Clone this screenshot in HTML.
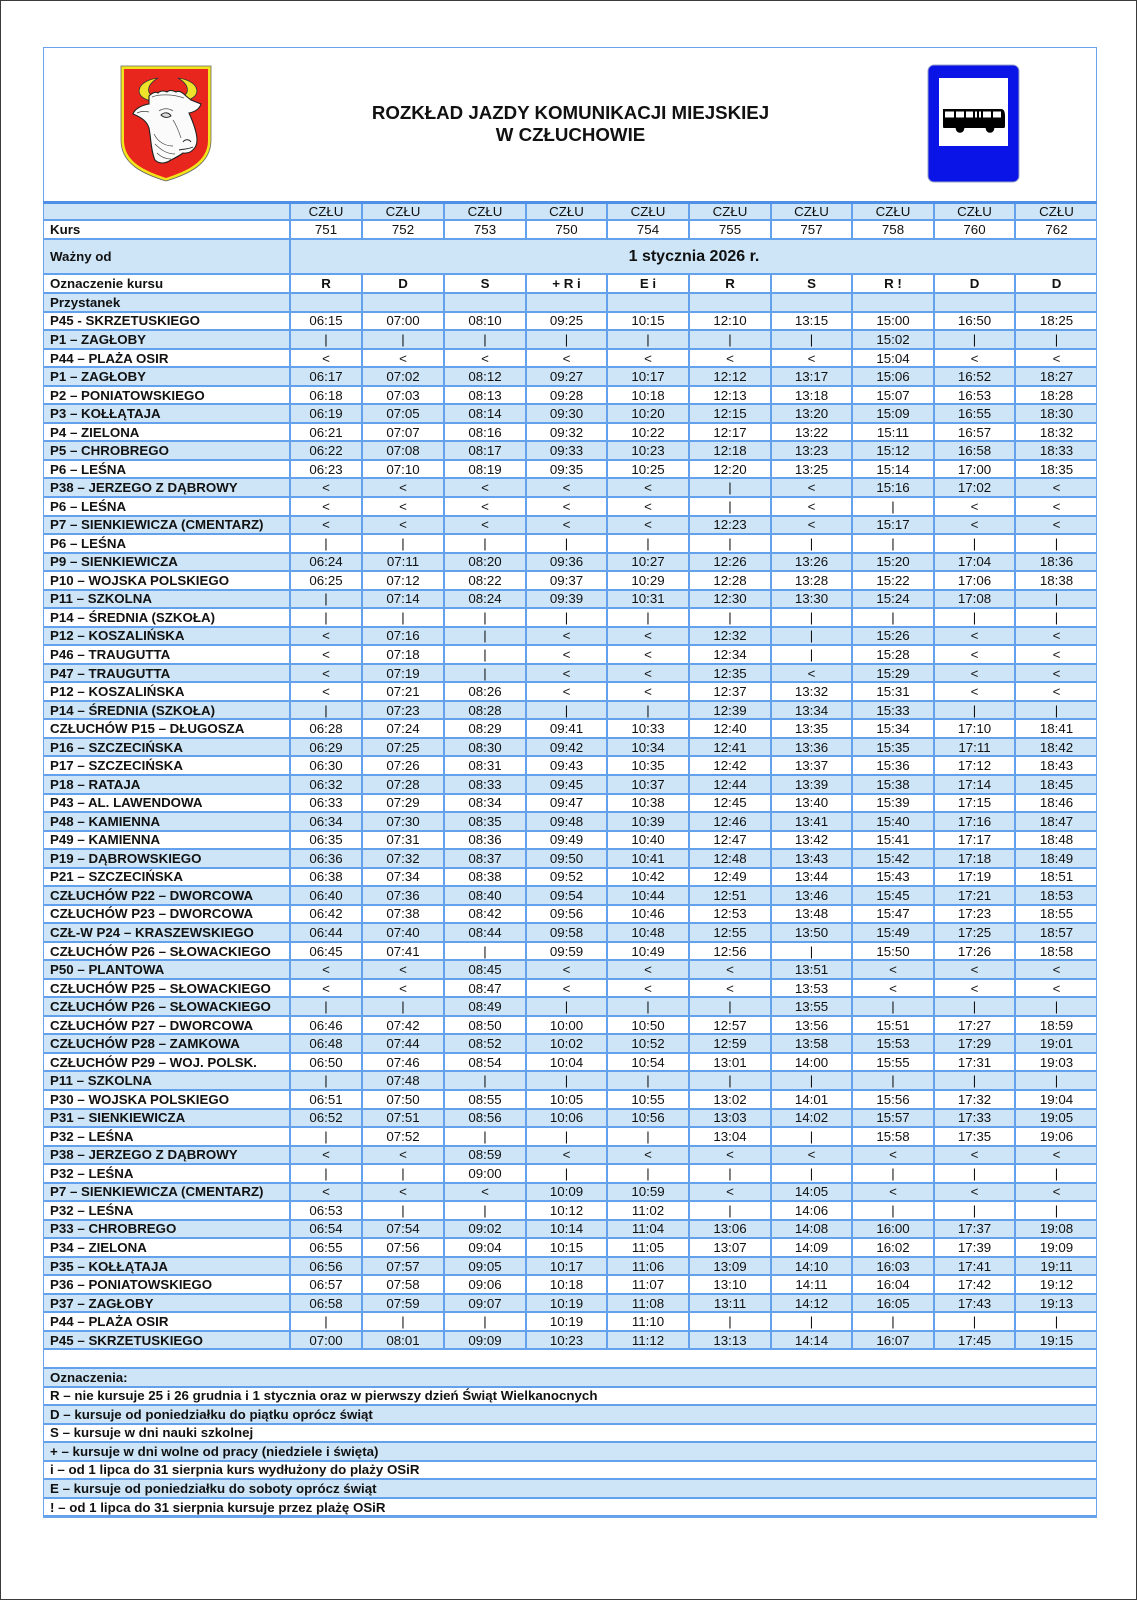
<!DOCTYPE html>
<html>
<head>
<meta charset="utf-8">
<style>
html,body{margin:0;padding:0;background:#fff;}
body{width:1137px;height:1600px;position:relative;overflow:hidden;font-family:"Liberation Sans",Arial,sans-serif;color:#111;}
.page{position:absolute;left:0;top:0;width:1137px;height:1600px;box-sizing:border-box;border:1.5px solid #3a3a3a;}
.frame{position:absolute;left:43px;top:47px;width:1054px;height:1471px;box-sizing:border-box;border:1.3px solid #6aa3ea;z-index:5;pointer-events:none;}
.thick{position:absolute;left:43px;top:200.5px;width:1054px;height:3px;background:#4f8fe6;z-index:6;}
.title{position:absolute;left:270px;top:102px;width:601px;text-align:center;font-weight:bold;font-size:18.7px;line-height:22px;color:#111;}
.tbl{position:absolute;left:43px;top:203px;width:1054px;}
.r{display:flex;height:18.54px;box-sizing:border-box;border-bottom:2px solid #64a1ec;background:#fff;align-items:center;}
.r.b{background:#cde5f7;}
.r span{box-sizing:border-box;border-left:2px solid #64a1ec;text-align:center;font-size:13.3px;height:100%;display:flex;align-items:center;justify-content:center;white-space:nowrap;}
.r span:first-child{border-left:none;justify-content:flex-start;padding-left:7px;font-weight:bold;width:246px;}
.r span:nth-child(2){width:72px}
.r span:nth-child(3){width:82px}
.r span:nth-child(4){width:82px}
.r span:nth-child(5){width:81px}
.r span:nth-child(6){width:82px}
.r span:nth-child(7){width:82px}
.r span:nth-child(8){width:81px}
.r span:nth-child(9){width:82px}
.r span:nth-child(10){width:81px}
.r span:nth-child(11){width:83px}
.r.bo span{font-weight:bold}
.r.n span:first-child{width:1054px}
.r.wz span:nth-child(2){width:808px;font-weight:bold;font-size:16px;}
.nr{height:18.56px}
</style>
</head>
<body>
<div class="page"></div>
<div class="frame"></div>
<div class="thick"></div>

<!-- coat of arms -->
<svg style="position:absolute;left:119px;top:64px" width="95" height="120" viewBox="-2 -2 95 120">
  <path d="M0,0 H90 V74 C90,98 68,108 45,115 C22,108 0,98 0,74 Z" fill="#f2e41c" stroke="#666" stroke-width="0.8"/>
  <path d="M3,3 H87 V74 C87,96 66,105 45,112 C24,105 3,96 3,74 Z" fill="#e8261e"/>
  <path d="M31,35 C12,32 14,15 37,12 C25,19 25,28 34,31 Z" fill="#efe22a" stroke="#333" stroke-width="0.8"/>
  <path d="M63,35 C82,32 80,15 57,12 C69,19 69,28 60,31 Z" fill="#efe22a" stroke="#333" stroke-width="0.8"/>
  <path d="M28,30 C31,27 34,25 37,27 C40,24 44,25 46,26 C49,23 53,25 55,26 C58,24 62,27 65,30 L70,34 L80,38 C78,44 73,46 68,47 C72,56 76,66 76,74 C76,82 70,88 62,87 C58,90 54,92 50,94 C44,98 38,98 34,94 C30,86 30,72 28,62 C26,56 22,52 12,48 C14,42 22,39 28,38 Z" fill="#fbfbfb" stroke="#222" stroke-width="1.1"/>
  <path d="M31,31 C38,28 52,28 63,32" fill="none" stroke="#555" stroke-width="0.8"/>
  <path d="M40,49 C43,46 48,46 50,50 C47,52 43,52 40,49 Z" fill="#ddd" stroke="#222" stroke-width="0.9"/>
  <path d="M38,45 C42,42 48,42 52,45" fill="none" stroke="#444" stroke-width="0.7"/>
  <path d="M62,76 C64,73 68,73 70,76 M58,84 C63,83 68,83 72,81" fill="none" stroke="#222" stroke-width="0.9"/>
  <path d="M34,78 C40,84 46,88 54,88 M33,68 C37,76 44,80 52,80 M36,87 C40,91 45,93 50,93" fill="none" stroke="#444" stroke-width="0.7"/>
  <path d="M52,54 C56,60 58,66 60,72" fill="none" stroke="#555" stroke-width="0.7"/>
  <path d="M16,47 C20,45 24,45 28,46" fill="none" stroke="#444" stroke-width="0.7"/>
</svg>

<div class="title">ROZKŁAD JAZDY KOMUNIKACJI MIEJSKIEJ<br>W CZŁUCHOWIE</div>

<!-- bus stop sign -->
<svg style="position:absolute;left:927px;top:64px" width="94" height="120" viewBox="0 0 94 120">
  <rect x="1" y="1" width="91" height="117" rx="6" ry="6" fill="#0b14e6" stroke="#9aa3c8" stroke-width="1"/>
  <rect x="12" y="14" width="69" height="68" fill="#fff"/>
  <path d="M16,45 H74 C77,45 78,48 78,52 V62 C78,64 77,64 76,64 H17 C16,64 16,63 16,62 Z" fill="#000"/>
  <rect x="18" y="47.5" width="9" height="6" fill="#fff"/>
  <rect x="29" y="47.5" width="8" height="6" fill="#fff"/>
  <rect x="39" y="47.5" width="7" height="6" fill="#fff"/>
  <rect x="48" y="47.5" width="2" height="6" fill="#fff"/>
  <rect x="52" y="47.5" width="2" height="6" fill="#fff"/>
  <rect x="56" y="47.5" width="8" height="6" fill="#fff"/>
  <rect x="66" y="47.5" width="8" height="6" fill="#fff"/>
  <circle cx="33" cy="64.5" r="4.3" fill="#000"/>
  <circle cx="63" cy="64.5" r="4.3" fill="#000"/>
</svg>

<div class="tbl">
  <div class="r b" style="height:18.3px"><span></span><span>CZŁU</span><span>CZŁU</span><span>CZŁU</span><span>CZŁU</span><span>CZŁU</span><span>CZŁU</span><span>CZŁU</span><span>CZŁU</span><span>CZŁU</span><span>CZŁU</span></div>
  <div class="r" style="height:19px"><span>Kurs</span><span>751</span><span>752</span><span>753</span><span>750</span><span>754</span><span>755</span><span>757</span><span>758</span><span>760</span><span>762</span></div>
  <div class="r b wz" style="height:35px"><span>Ważny od</span><span>1 stycznia 2026 r.</span></div>
  <div class="r bo" style="height:18.4px"><span>Oznaczenie kursu</span><span>R</span><span>D</span><span>S</span><span>+ R i</span><span>E i</span><span>R</span><span>S</span><span>R !</span><span>D</span><span>D</span></div>
  <div class="r b" style="height:19px"><span>Przystanek</span><span></span><span></span><span></span><span></span><span></span><span></span><span></span><span></span><span></span><span></span></div>

  <div class="r"><span>P45 - SKRZETUSKIEGO</span><span>06:15</span><span>07:00</span><span>08:10</span><span>09:25</span><span>10:15</span><span>12:10</span><span>13:15</span><span>15:00</span><span>16:50</span><span>18:25</span></div>
  <div class="r b"><span>P1 – ZAGŁOBY</span><span>|</span><span>|</span><span>|</span><span>|</span><span>|</span><span>|</span><span>|</span><span>15:02</span><span>|</span><span>|</span></div>
  <div class="r"><span>P44 – PLAŻA OSIR</span><span>&lt;</span><span>&lt;</span><span>&lt;</span><span>&lt;</span><span>&lt;</span><span>&lt;</span><span>&lt;</span><span>15:04</span><span>&lt;</span><span>&lt;</span></div>
  <div class="r b"><span>P1 – ZAGŁOBY</span><span>06:17</span><span>07:02</span><span>08:12</span><span>09:27</span><span>10:17</span><span>12:12</span><span>13:17</span><span>15:06</span><span>16:52</span><span>18:27</span></div>
  <div class="r"><span>P2 – PONIATOWSKIEGO</span><span>06:18</span><span>07:03</span><span>08:13</span><span>09:28</span><span>10:18</span><span>12:13</span><span>13:18</span><span>15:07</span><span>16:53</span><span>18:28</span></div>
  <div class="r b"><span>P3 – KOŁŁĄTAJA</span><span>06:19</span><span>07:05</span><span>08:14</span><span>09:30</span><span>10:20</span><span>12:15</span><span>13:20</span><span>15:09</span><span>16:55</span><span>18:30</span></div>
  <div class="r"><span>P4 – ZIELONA</span><span>06:21</span><span>07:07</span><span>08:16</span><span>09:32</span><span>10:22</span><span>12:17</span><span>13:22</span><span>15:11</span><span>16:57</span><span>18:32</span></div>
  <div class="r b"><span>P5 – CHROBREGO</span><span>06:22</span><span>07:08</span><span>08:17</span><span>09:33</span><span>10:23</span><span>12:18</span><span>13:23</span><span>15:12</span><span>16:58</span><span>18:33</span></div>
  <div class="r"><span>P6 – LEŚNA</span><span>06:23</span><span>07:10</span><span>08:19</span><span>09:35</span><span>10:25</span><span>12:20</span><span>13:25</span><span>15:14</span><span>17:00</span><span>18:35</span></div>
  <div class="r b"><span>P38 – JERZEGO Z DĄBROWY</span><span>&lt;</span><span>&lt;</span><span>&lt;</span><span>&lt;</span><span>&lt;</span><span>|</span><span>&lt;</span><span>15:16</span><span>17:02</span><span>&lt;</span></div>
  <div class="r"><span>P6 – LEŚNA</span><span>&lt;</span><span>&lt;</span><span>&lt;</span><span>&lt;</span><span>&lt;</span><span>|</span><span>&lt;</span><span>|</span><span>&lt;</span><span>&lt;</span></div>
  <div class="r b"><span>P7 – SIENKIEWICZA (CMENTARZ)</span><span>&lt;</span><span>&lt;</span><span>&lt;</span><span>&lt;</span><span>&lt;</span><span>12:23</span><span>&lt;</span><span>15:17</span><span>&lt;</span><span>&lt;</span></div>
  <div class="r"><span>P6 – LEŚNA</span><span>|</span><span>|</span><span>|</span><span>|</span><span>|</span><span>|</span><span>|</span><span>|</span><span>|</span><span>|</span></div>
  <div class="r b"><span>P9 – SIENKIEWICZA</span><span>06:24</span><span>07:11</span><span>08:20</span><span>09:36</span><span>10:27</span><span>12:26</span><span>13:26</span><span>15:20</span><span>17:04</span><span>18:36</span></div>
  <div class="r"><span>P10 – WOJSKA POLSKIEGO</span><span>06:25</span><span>07:12</span><span>08:22</span><span>09:37</span><span>10:29</span><span>12:28</span><span>13:28</span><span>15:22</span><span>17:06</span><span>18:38</span></div>
  <div class="r b"><span>P11 – SZKOLNA</span><span>|</span><span>07:14</span><span>08:24</span><span>09:39</span><span>10:31</span><span>12:30</span><span>13:30</span><span>15:24</span><span>17:08</span><span>|</span></div>
  <div class="r"><span>P14 – ŚREDNIA (SZKOŁA)</span><span>|</span><span>|</span><span>|</span><span>|</span><span>|</span><span>|</span><span>|</span><span>|</span><span>|</span><span>|</span></div>
  <div class="r b"><span>P12 – KOSZALIŃSKA</span><span>&lt;</span><span>07:16</span><span>|</span><span>&lt;</span><span>&lt;</span><span>12:32</span><span>|</span><span>15:26</span><span>&lt;</span><span>&lt;</span></div>
  <div class="r"><span>P46 – TRAUGUTTA</span><span>&lt;</span><span>07:18</span><span>|</span><span>&lt;</span><span>&lt;</span><span>12:34</span><span>|</span><span>15:28</span><span>&lt;</span><span>&lt;</span></div>
  <div class="r b"><span>P47 – TRAUGUTTA</span><span>&lt;</span><span>07:19</span><span>|</span><span>&lt;</span><span>&lt;</span><span>12:35</span><span>&lt;</span><span>15:29</span><span>&lt;</span><span>&lt;</span></div>
  <div class="r"><span>P12 – KOSZALIŃSKA</span><span>&lt;</span><span>07:21</span><span>08:26</span><span>&lt;</span><span>&lt;</span><span>12:37</span><span>13:32</span><span>15:31</span><span>&lt;</span><span>&lt;</span></div>
  <div class="r b"><span>P14 – ŚREDNIA (SZKOŁA)</span><span>|</span><span>07:23</span><span>08:28</span><span>|</span><span>|</span><span>12:39</span><span>13:34</span><span>15:33</span><span>|</span><span>|</span></div>
  <div class="r"><span>CZŁUCHÓW P15 – DŁUGOSZA</span><span>06:28</span><span>07:24</span><span>08:29</span><span>09:41</span><span>10:33</span><span>12:40</span><span>13:35</span><span>15:34</span><span>17:10</span><span>18:41</span></div>
  <div class="r b"><span>P16 – SZCZECIŃSKA</span><span>06:29</span><span>07:25</span><span>08:30</span><span>09:42</span><span>10:34</span><span>12:41</span><span>13:36</span><span>15:35</span><span>17:11</span><span>18:42</span></div>
  <div class="r"><span>P17 – SZCZECIŃSKA</span><span>06:30</span><span>07:26</span><span>08:31</span><span>09:43</span><span>10:35</span><span>12:42</span><span>13:37</span><span>15:36</span><span>17:12</span><span>18:43</span></div>
  <div class="r b"><span>P18 – RATAJA</span><span>06:32</span><span>07:28</span><span>08:33</span><span>09:45</span><span>10:37</span><span>12:44</span><span>13:39</span><span>15:38</span><span>17:14</span><span>18:45</span></div>
  <div class="r"><span>P43 – AL. LAWENDOWA</span><span>06:33</span><span>07:29</span><span>08:34</span><span>09:47</span><span>10:38</span><span>12:45</span><span>13:40</span><span>15:39</span><span>17:15</span><span>18:46</span></div>
  <div class="r b"><span>P48 – KAMIENNA</span><span>06:34</span><span>07:30</span><span>08:35</span><span>09:48</span><span>10:39</span><span>12:46</span><span>13:41</span><span>15:40</span><span>17:16</span><span>18:47</span></div>
  <div class="r"><span>P49 – KAMIENNA</span><span>06:35</span><span>07:31</span><span>08:36</span><span>09:49</span><span>10:40</span><span>12:47</span><span>13:42</span><span>15:41</span><span>17:17</span><span>18:48</span></div>
  <div class="r b"><span>P19 – DĄBROWSKIEGO</span><span>06:36</span><span>07:32</span><span>08:37</span><span>09:50</span><span>10:41</span><span>12:48</span><span>13:43</span><span>15:42</span><span>17:18</span><span>18:49</span></div>
  <div class="r"><span>P21 – SZCZECIŃSKA</span><span>06:38</span><span>07:34</span><span>08:38</span><span>09:52</span><span>10:42</span><span>12:49</span><span>13:44</span><span>15:43</span><span>17:19</span><span>18:51</span></div>
  <div class="r b"><span>CZŁUCHÓW P22 – DWORCOWA</span><span>06:40</span><span>07:36</span><span>08:40</span><span>09:54</span><span>10:44</span><span>12:51</span><span>13:46</span><span>15:45</span><span>17:21</span><span>18:53</span></div>
  <div class="r"><span>CZŁUCHÓW P23 – DWORCOWA</span><span>06:42</span><span>07:38</span><span>08:42</span><span>09:56</span><span>10:46</span><span>12:53</span><span>13:48</span><span>15:47</span><span>17:23</span><span>18:55</span></div>
  <div class="r b"><span>CZŁ-W P24 – KRASZEWSKIEGO</span><span>06:44</span><span>07:40</span><span>08:44</span><span>09:58</span><span>10:48</span><span>12:55</span><span>13:50</span><span>15:49</span><span>17:25</span><span>18:57</span></div>
  <div class="r"><span>CZŁUCHÓW P26 – SŁOWACKIEGO</span><span>06:45</span><span>07:41</span><span>|</span><span>09:59</span><span>10:49</span><span>12:56</span><span>|</span><span>15:50</span><span>17:26</span><span>18:58</span></div>
  <div class="r b"><span>P50 – PLANTOWA</span><span>&lt;</span><span>&lt;</span><span>08:45</span><span>&lt;</span><span>&lt;</span><span>&lt;</span><span>13:51</span><span>&lt;</span><span>&lt;</span><span>&lt;</span></div>
  <div class="r"><span>CZŁUCHÓW P25 – SŁOWACKIEGO</span><span>&lt;</span><span>&lt;</span><span>08:47</span><span>&lt;</span><span>&lt;</span><span>&lt;</span><span>13:53</span><span>&lt;</span><span>&lt;</span><span>&lt;</span></div>
  <div class="r b"><span>CZŁUCHÓW P26 – SŁOWACKIEGO</span><span>|</span><span>|</span><span>08:49</span><span>|</span><span>|</span><span>|</span><span>13:55</span><span>|</span><span>|</span><span>|</span></div>
  <div class="r"><span>CZŁUCHÓW P27 – DWORCOWA</span><span>06:46</span><span>07:42</span><span>08:50</span><span>10:00</span><span>10:50</span><span>12:57</span><span>13:56</span><span>15:51</span><span>17:27</span><span>18:59</span></div>
  <div class="r b"><span>CZŁUCHÓW P28 – ZAMKOWA</span><span>06:48</span><span>07:44</span><span>08:52</span><span>10:02</span><span>10:52</span><span>12:59</span><span>13:58</span><span>15:53</span><span>17:29</span><span>19:01</span></div>
  <div class="r"><span>CZŁUCHÓW P29 – WOJ. POLSK.</span><span>06:50</span><span>07:46</span><span>08:54</span><span>10:04</span><span>10:54</span><span>13:01</span><span>14:00</span><span>15:55</span><span>17:31</span><span>19:03</span></div>
  <div class="r b"><span>P11 – SZKOLNA</span><span>|</span><span>07:48</span><span>|</span><span>|</span><span>|</span><span>|</span><span>|</span><span>|</span><span>|</span><span>|</span></div>
  <div class="r"><span>P30 – WOJSKA POLSKIEGO</span><span>06:51</span><span>07:50</span><span>08:55</span><span>10:05</span><span>10:55</span><span>13:02</span><span>14:01</span><span>15:56</span><span>17:32</span><span>19:04</span></div>
  <div class="r b"><span>P31 – SIENKIEWICZA</span><span>06:52</span><span>07:51</span><span>08:56</span><span>10:06</span><span>10:56</span><span>13:03</span><span>14:02</span><span>15:57</span><span>17:33</span><span>19:05</span></div>
  <div class="r"><span>P32 – LEŚNA</span><span>|</span><span>07:52</span><span>|</span><span>|</span><span>|</span><span>13:04</span><span>|</span><span>15:58</span><span>17:35</span><span>19:06</span></div>
  <div class="r b"><span>P38 – JERZEGO Z DĄBROWY</span><span>&lt;</span><span>&lt;</span><span>08:59</span><span>&lt;</span><span>&lt;</span><span>&lt;</span><span>&lt;</span><span>&lt;</span><span>&lt;</span><span>&lt;</span></div>
  <div class="r"><span>P32 – LEŚNA</span><span>|</span><span>|</span><span>09:00</span><span>|</span><span>|</span><span>|</span><span>|</span><span>|</span><span>|</span><span>|</span></div>
  <div class="r b"><span>P7 – SIENKIEWICZA (CMENTARZ)</span><span>&lt;</span><span>&lt;</span><span>&lt;</span><span>10:09</span><span>10:59</span><span>&lt;</span><span>14:05</span><span>&lt;</span><span>&lt;</span><span>&lt;</span></div>
  <div class="r"><span>P32 – LEŚNA</span><span>06:53</span><span>|</span><span>|</span><span>10:12</span><span>11:02</span><span>|</span><span>14:06</span><span>|</span><span>|</span><span>|</span></div>
  <div class="r b"><span>P33 – CHROBREGO</span><span>06:54</span><span>07:54</span><span>09:02</span><span>10:14</span><span>11:04</span><span>13:06</span><span>14:08</span><span>16:00</span><span>17:37</span><span>19:08</span></div>
  <div class="r"><span>P34 – ZIELONA</span><span>06:55</span><span>07:56</span><span>09:04</span><span>10:15</span><span>11:05</span><span>13:07</span><span>14:09</span><span>16:02</span><span>17:39</span><span>19:09</span></div>
  <div class="r b"><span>P35 – KOŁŁĄTAJA</span><span>06:56</span><span>07:57</span><span>09:05</span><span>10:17</span><span>11:06</span><span>13:09</span><span>14:10</span><span>16:03</span><span>17:41</span><span>19:11</span></div>
  <div class="r"><span>P36 – PONIATOWSKIEGO</span><span>06:57</span><span>07:58</span><span>09:06</span><span>10:18</span><span>11:07</span><span>13:10</span><span>14:11</span><span>16:04</span><span>17:42</span><span>19:12</span></div>
  <div class="r b"><span>P37 – ZAGŁOBY</span><span>06:58</span><span>07:59</span><span>09:07</span><span>10:19</span><span>11:08</span><span>13:11</span><span>14:12</span><span>16:05</span><span>17:43</span><span>19:13</span></div>
  <div class="r"><span>P44 – PLAŻA OSIR</span><span>|</span><span>|</span><span>|</span><span>10:19</span><span>11:10</span><span>|</span><span>|</span><span>|</span><span>|</span><span>|</span></div>
  <div class="r b"><span>P45 – SKRZETUSKIEGO</span><span>07:00</span><span>08:01</span><span>09:09</span><span>10:23</span><span>11:12</span><span>13:13</span><span>14:14</span><span>16:07</span><span>17:45</span><span>19:15</span></div>

  <div class="r n nr"><span></span></div>
  <div class="r n b nr"><span>Oznaczenia:</span></div>
  <div class="r n nr"><span>R – nie kursuje 25 i 26 grudnia i 1 stycznia oraz w pierwszy dzień Świąt Wielkanocnych</span></div>
  <div class="r n b nr"><span>D – kursuje od poniedziałku do piątku oprócz świąt</span></div>
  <div class="r n nr"><span>S – kursuje w dni nauki szkolnej</span></div>
  <div class="r n b nr"><span>+ – kursuje w dni wolne od pracy (niedziele i święta)</span></div>
  <div class="r n nr"><span>i – od 1 lipca do 31 sierpnia kurs wydłużony do plaży OSiR</span></div>
  <div class="r n b nr"><span>E – kursuje od poniedziałku do soboty oprócz świąt</span></div>
  <div class="r n nr"><span>! – od 1 lipca do 31 sierpnia kursuje przez plażę OSiR</span></div>
</div>
</body>
</html>
